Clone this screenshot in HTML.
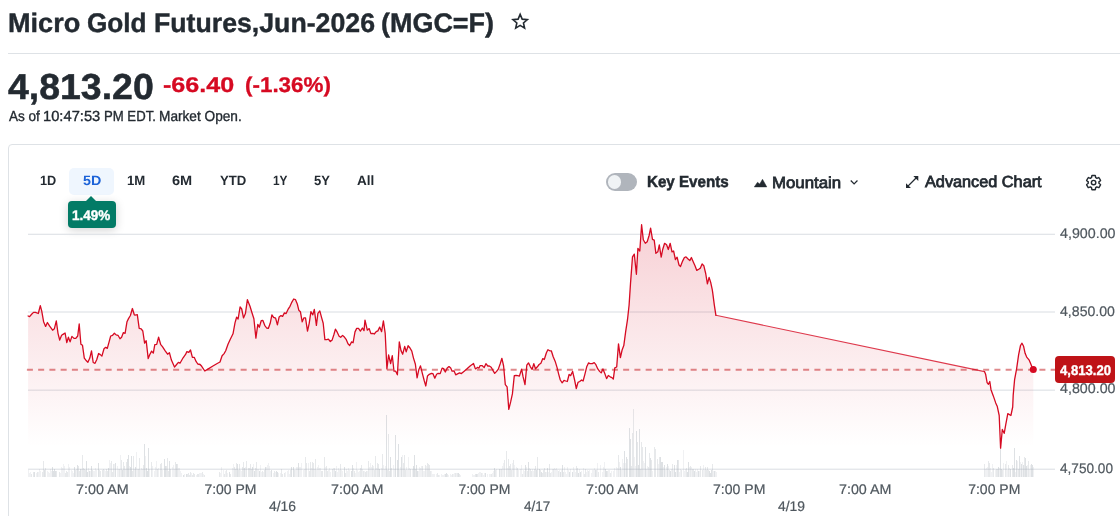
<!DOCTYPE html>
<html lang="en">
<head>
<meta charset="utf-8">
<title>Micro Gold Futures,Jun-2026 (MGC=F)</title>
<style>
*{box-sizing:border-box;margin:0;padding:0}
html,body{width:1120px;height:516px;overflow:hidden;background:#fff}
body{position:relative;font-family:"Liberation Sans",sans-serif;color:#232a31}
.t{position:absolute;white-space:nowrap;transform-origin:0 0;display:block;text-rendering:geometricPrecision}
h1{font-size:28px;font-weight:700}
.rule{position:absolute;left:8px;right:0;top:53px;height:1px;background:#dee2e6}
.card{position:absolute;left:8px;top:144px;width:1200px;height:500px;border:1px solid #dee2e6;border-radius:4px}
.tabbg{position:absolute;left:69px;top:168px;width:45px;height:27px;border-radius:5px;background:#eff6fe}
.tip{position:absolute;left:68px;top:201px;width:48px;height:27px;border-radius:4px;background:#037b66;box-shadow:0 2px 10px rgba(0,0,0,.18)}
.tip:before{content:"";position:absolute;left:18px;top:-5px;border-left:5px solid transparent;border-right:5px solid transparent;border-bottom:5px solid #037b66}
.toggle{position:absolute;left:606px;top:173px;width:31px;height:17.5px;border-radius:9px;background:#b0b5bc}
.toggle i{position:absolute;left:1.6px;top:2px;width:13.5px;height:13.5px;border-radius:50%;background:#f0f3f5}
.chart{position:absolute;left:0;top:0}
.tag{position:absolute;left:1055px;top:356px;width:60px;height:27.2px;border-radius:4px;background:#bf1317}
svg.ic{position:absolute;overflow:visible}
</style>
</head>
<body>
<h1><span class="t" style="left:8.08px;top:-3.50px;font-size:26.8px;line-height:53.6px;font-weight:700;-webkit-text-stroke:0.4px currentColor;transform:scaleX(1.0108);">Micro</span> <span class="t" style="left:86.62px;top:-3.50px;font-size:26.8px;line-height:53.6px;font-weight:700;-webkit-text-stroke:0.4px currentColor;transform:scaleX(0.9761);">Gold</span> <span class="t" style="left:153.51px;top:-3.50px;font-size:26.8px;line-height:53.6px;font-weight:700;-webkit-text-stroke:0.4px currentColor;transform:scaleX(0.9959);">Futures,Jun-2026</span> <span class="t" style="left:381.24px;top:-3.50px;font-size:26.8px;line-height:53.6px;font-weight:700;-webkit-text-stroke:0.4px currentColor;transform:scaleX(1.0055);">(MGC=F)</span></h1>
<svg class="ic" style="left:0;top:0" width="1120" height="50" viewBox="0 0 1120 50"><path d="M520.15 14.38 L522.19 19.14 L527.35 19.61 L523.45 23.02 L524.60 28.07 L520.15 25.42 L515.70 28.07 L516.85 23.02 L512.95 19.61 L518.11 19.14Z" fill="none" stroke="#232a31" stroke-width="1.600" stroke-linejoin="miter" stroke-miterlimit="10"/></svg>
<div class="rule"></div>
<div class="t" style="left:8.14px;top:50.70px;font-size:36px;line-height:72px;font-weight:700;-webkit-text-stroke:0.5px currentColor;transform:scaleX(1.0400);">4,813.20</div>
<div class="t" style="left:163.42px;top:64.00px;font-size:21.3px;line-height:42.6px;font-weight:700;color:#d60a22;-webkit-text-stroke:0.3px currentColor;transform:scaleX(1.1797);">-66.40</div><div class="t" style="left:244.75px;top:64.00px;font-size:21.3px;line-height:42.6px;font-weight:700;color:#d60a22;-webkit-text-stroke:0.3px currentColor;transform:scaleX(1.0520);">(-1.36%)</div>
<div><span class="t" style="left:8.93px;top:103.00px;font-size:14.6px;line-height:29.2px;-webkit-text-stroke:0.35px currentColor;transform:scaleX(0.9274);">As of</span> <span class="t" style="left:43.09px;top:103.00px;font-size:14.6px;line-height:29.2px;-webkit-text-stroke:0.35px currentColor;transform:scaleX(1.0081);">10:47:53</span> <span class="t" style="left:103.60px;top:103.00px;font-size:14.6px;line-height:29.2px;-webkit-text-stroke:0.35px currentColor;transform:scaleX(0.9009);">PM EDT.</span> <span class="t" style="left:159.06px;top:103.00px;font-size:14.6px;line-height:29.2px;-webkit-text-stroke:0.35px currentColor;transform:scaleX(0.9357);">Market Open.</span></div>
<div class="card"></div>
<div class="tabbg"></div>
<div class="t" style="left:39.79px;top:167.30px;font-size:13.5px;line-height:27.0px;font-weight:700;transform:scaleX(0.9438);">1D</div><div class="t" style="left:82.57px;top:167.30px;font-size:13.5px;line-height:27.0px;font-weight:700;color:#1d63d8;transform:scaleX(1.0585);">5D</div><div class="t" style="left:127.27px;top:167.30px;font-size:13.5px;line-height:27.0px;font-weight:700;transform:scaleX(0.9765);">1M</div><div class="t" style="left:172.26px;top:167.30px;font-size:13.5px;line-height:27.0px;font-weight:700;transform:scaleX(1.0783);">6M</div><div class="t" style="left:219.76px;top:167.30px;font-size:13.5px;line-height:27.0px;font-weight:700;transform:scaleX(0.9752);">YTD</div><div class="t" style="left:272.54px;top:167.30px;font-size:13.5px;line-height:27.0px;font-weight:700;transform:scaleX(0.8774);">1Y</div><div class="t" style="left:313.92px;top:167.30px;font-size:13.5px;line-height:27.0px;font-weight:700;transform:scaleX(0.9651);">5Y</div><div class="t" style="left:357.40px;top:167.30px;font-size:13.5px;line-height:27.0px;font-weight:700;transform:scaleX(1.0032);">All</div>
<div class="tip"></div><div class="t" style="left:72.38px;top:201.10px;font-size:14px;line-height:28px;font-weight:700;color:#fff;-webkit-text-stroke:0.4px currentColor;transform:scaleX(0.9626);">1.49%</div>
<div class="toggle"><i></i></div>
<div class="t" style="left:646.54px;top:167.25px;font-size:16px;line-height:32px;font-weight:700;-webkit-text-stroke:0.5px currentColor;transform:scaleX(0.9471);">Key Events</div>
<svg class="ic" style="left:754px;top:179px" width="13" height="8" viewBox="0 0 13 8"><path d="M0.300 7.900L3.500 3.300 5.750 5.100 8.500 0.300 12.800 7.900z" fill="#232a31" stroke="#232a31" stroke-width="0.500" stroke-linejoin="round"/></svg>
<div class="t" style="left:772.05px;top:167.50px;font-size:16px;line-height:32px;-webkit-text-stroke:0.75px currentColor;transform:scaleX(1.0506);">Mountain</div>
<svg class="ic" style="left:850px;top:180px" width="9" height="5" viewBox="0 0 9 5"><path d="M0.750 0.500L4.100 3.850 7.450 0.500" fill="none" stroke="#232a31" stroke-width="1.250"/></svg>
<svg class="ic" style="left:906px;top:176px" width="12.300" height="12.100" viewBox="0 0 12.400 12.200"><path d="M1.500 10.700L10.900 1.300" fill="none" stroke="#232a31" stroke-width="1.350"/><path d="M12.400 0H7.400L12.400 5zM0 12.200V7.200L5 12.200z" fill="#232a31"/></svg>
<div class="t" style="left:925.11px;top:166.60px;font-size:16px;line-height:32px;-webkit-text-stroke:0.75px currentColor;transform:scaleX(1.0165);">Advanced Chart</div>
<svg class="ic" style="left:1085.400px;top:174.400px" width="17.200" height="17.200" viewBox="0 0 24 24"><path d="M19.430 12.980c.040-.320.070-.640.070-.980s-.030-.660-.070-.980l2.110-1.650c.190-.150.240-.420.120-.640l-2-3.460c-.120-.220-.390-.300-.610-.220l-2.490 1c-.520-.400-1.080-.730-1.690-.980l-.380-2.650C14.460 2.180 14.250 2 14 2h-4c-.250 0-.460.180-.490.420l-.380 2.650c-.610.250-1.170.590-1.690.980l-2.490-1c-.230-.090-.490 0-.610.220l-2 3.460c-.130.220-.070.490.120.640l2.110 1.650c-.040.320-.070.650-.070.980s.030.660.070.980l-2.110 1.650c-.190.150-.240.420-.120.640l2 3.460c.120.220.390.300.610.220l2.490-1c.520.400 1.080.730 1.690.980l.380 2.650c.030.240.240.420.490.420h4c.250 0 .460-.180.490-.420l.380-2.650c.610-.250 1.170-.590 1.690-.980l2.490 1c.230.090.490 0 .610-.220l2-3.460c.120-.220.070-.490-.120-.640l-2.110-1.650z" fill="none" stroke="#232a31" stroke-width="2" stroke-linejoin="round"/><circle cx="12" cy="12" r="3.100" fill="none" stroke="#232a31" stroke-width="2"/></svg>
<svg class="chart" width="1120" height="516" viewBox="0 0 1120 516">
<defs>
<linearGradient id="g" x1="0" y1="225" x2="0" y2="447" gradientUnits="userSpaceOnUse">
<stop offset="0" stop-color="#d60a22" stop-opacity="0.19"/>
<stop offset="1" stop-color="#d60a22" stop-opacity="0"/>
</linearGradient>
</defs>
<g stroke="#d9dde2" stroke-width="1">
<line x1="28" x2="1055" y1="234.25" y2="234.25"/><line x1="28" x2="1055" y1="312.0" y2="312.0"/><line x1="28" x2="1055" y1="390.15" y2="390.15"/><line x1="28" x2="1055" y1="469.2" y2="469.2"/>
</g>
<path d="M28.1 316 L29.6 316.6 L31.6 314.3 L33.5 312.4 L35.5 312.4 L38.3 313.5 L40.3 305.7 L41.7 310.9 L43.6 321.7 L45.6 326.4 L47.4 322.5 L49.5 325.9 L52.6 330.2 L54.4 328.7 L56.3 320.9 L58 333.3 L59.7 340 L61.6 335.3 L63.4 334.1 L65.1 333 L66.8 342.6 L68.4 337.2 L70.1 341.9 L71.9 336.4 L74 338.4 L75.8 338.4 L77.7 336 L79.2 324 L80.9 344.2 L82.5 345.3 L84.3 358.1 L85.9 360.2 L87.9 362.3 L89.8 358.1 L91.5 350.9 L93.2 362.5 L95 363.3 L96.7 359.7 L98.6 353.5 L100.3 354.6 L101.9 356.1 L104 348.8 L105.7 347.3 L107.3 348.4 L109.1 341.9 L110.7 336 L112.6 335.3 L114.4 333.3 L116.1 334.9 L118 335.3 L120 338.8 L121.6 337.2 L123.4 332.6 L125.1 333.3 L127 321.7 L128.5 318.6 L130.4 315.5 L132.4 308.5 L134.3 314.7 L135 315.2 L137.3 314.7 L139.2 328.3 L141.2 328.8 L142.8 331 L144.6 343.1 L146.2 340.7 L148.2 358.6 L149.7 354.7 L151.6 351.1 L153.3 353.1 L154.8 344.6 L156.7 344.3 L158.6 337.2 L160.6 344.3 L162.6 346.9 L165.2 350.8 L167.6 354.2 L169.4 352.7 L171.4 360.1 L174.5 367.1 L176.6 364.5 L178.4 362.4 L180 363.2 L183.1 357.8 L185.4 354.7 L186.9 351.6 L188.8 352.4 L190.5 350 L192.4 357.3 L194.2 357.3 L196.2 361.7 L197.8 364 L200.1 364.5 L201.7 366.3 L204.8 371 L207.9 369.1 L212.5 366.3 L217.2 363.5 L220 362 L222.1 355.8 L224.1 353.6 L225.7 350.8 L228 344.3 L230.3 339.2 L233 333.8 L235 322.9 L236.6 317.2 L238.1 319 L240.1 306.9 L241.7 309 L243.5 317.9 L245.4 313.6 L247.4 299.7 L249.3 304.6 L250 306.3 L251.9 312.5 L253.9 318.7 L255.9 338.1 L257.8 324.4 L259.3 327.2 L261.2 320.7 L262.9 320.5 L264.7 325.3 L266.6 328 L268.3 328.4 L270.2 323.3 L271.9 314.8 L273.6 317.4 L275.6 318.2 L277.4 324.9 L279.1 317.1 L281 315.6 L282.6 316.4 L284.4 312.9 L286.1 313.6 L288 309.4 L290 306.3 L291.9 302.1 L293.7 299 L295.4 299.6 L297.3 304 L298.8 310.2 L300.4 311.7 L302.2 321.8 L303.8 317.9 L305.5 317.9 L307.5 331.1 L309.2 323.3 L310.9 311.7 L312.8 314.8 L314.3 309.4 L316.4 325.3 L317.9 313.3 L319.8 310.9 L321.6 317.6 L323.2 323.3 L324.9 339.6 L326.7 339.6 L328.4 339.1 L330.3 341.5 L332.2 339.9 L334 334.2 L335.4 329.2 L337.1 331.9 L339.1 336.2 L340.7 337.3 L342.6 335.4 L344.6 337.3 L346.1 339.3 L348 343.8 L349.7 345.5 L351.6 341.9 L353.1 342.7 L355 331.9 L356.7 328.4 L358.5 328.4 L360.4 331.1 L362.4 328 L364 330.6 L365 320.1 L367.3 330.2 L369.2 328.6 L370.9 333.6 L372.8 333.3 L374.3 334 L376.2 331.7 L377.9 330.9 L379.7 327.1 L381.6 331.7 L383.4 320.9 L385.2 333.3 L386.9 368.9 L388.6 355 L390.6 363.5 L392.3 355.7 L394 371.2 L395.7 371.2 L397.4 374.8 L399.3 341.8 L401 350.6 L402.7 354.2 L404.7 346.4 L406.2 351.9 L408.1 345.7 L410 348 L411.8 351.1 L413.5 358.1 L415.4 364.3 L417.1 377.9 L418.8 369.7 L420.5 365.8 L422.4 373.6 L424.2 380.5 L425.8 386 L427.5 375.9 L429.3 374.3 L431.4 373.3 L432.9 373.6 L434.8 378.2 L436.6 374.3 L438.2 373.3 L440.2 373.6 L442.1 368.1 L443.6 368.6 L445.3 372 L447.2 368.1 L449 366.6 L450.7 368.1 L452.1 371.2 L454.1 370.9 L455.7 374.8 L458 373.6 L459.6 372.8 L461.4 373.6 L464.2 371.2 L467.3 368.6 L470.4 365.8 L473.5 363.5 L475.4 368.9 L477.4 367.4 L479 368.1 L480 365.7 L482.3 365.7 L484.2 367.6 L485.9 363.7 L487.8 366 L489.3 366 L491.2 367.2 L492.9 370.3 L494.7 373.4 L496.6 371.4 L498.3 369.1 L500.2 363.7 L501.9 358.3 L503.6 366 L505.3 384.6 L507.1 386.9 L508.8 409.4 L510.7 401.7 L512.4 393.9 L514.3 375.6 L516 375.3 L517.7 375.6 L519.4 376.1 L521.6 369.1 L523.1 376.9 L525 384.6 L526.8 365.2 L528.5 362.9 L530.4 366.8 L532.1 369.4 L533.8 363.7 L535.5 368.8 L537.4 366.8 L539.1 364.5 L540.9 363.2 L542.8 358.6 L544.3 359.5 L546.4 352.8 L547.9 349.7 L549.8 350.8 L551.3 350.8 L553.2 356.7 L555.2 361.4 L557.1 367.6 L558.6 373.8 L560.3 380 L562.2 382.8 L564 380.3 L565.7 381 L567.3 381.5 L569.1 374.5 L570.7 375.6 L572.6 371.4 L574.6 380 L576.3 388.5 L578 382.3 L579.7 381.5 L581.6 380 L583.1 381 L585 373.8 L586.7 366.8 L588.5 362.9 L590 363.6 L592.3 363.6 L594.2 362.7 L595.9 364.7 L597.8 368.9 L599.6 371.4 L601.2 372.9 L602.9 368.9 L604.7 373.2 L606.6 378.6 L608.3 375.5 L610.2 376.8 L611.9 377.6 L613.3 379.1 L614.8 367.8 L616.7 367 L618.5 343.8 L620.4 357.7 L622.1 350 L623.8 345.6 L625.7 331.4 L627.5 319.7 L629.1 305 L630.5 283.6 L632.5 256.9 L634.3 254.1 L636.4 274.3 L637.9 248.4 L639.8 251 L641.6 224.7 L643.3 239.8 L645.3 243.3 L647.2 241.7 L649.1 235.5 L650.6 228.1 L652.5 239.4 L654.2 240.2 L655.9 253.3 L657.8 251.8 L659.3 244.8 L661.2 257.2 L662.7 249.5 L664.6 243.3 L666.6 244.8 L668.3 249.5 L670.2 243.3 L672 251.8 L673.6 251 L675.4 259.5 L677.1 257.2 L679 265 L680.5 266.5 L682.6 261.1 L684.4 257.5 L686 256.9 L687.8 258.8 L689.8 260.6 L691.4 257.5 L693.3 261.9 L695 265.7 L696.8 270.4 L698.7 269.3 L700.4 268.1 L702.1 263.9 L703.8 265.7 L705.7 273.5 L707.4 283.9 L709.1 277.4 L710.8 282.8 L712.3 289.8 L712.8 293.3 L714.3 304.9 L715.9 315.3 L984.5 371.6 L985.6 374.2 L987.1 382.7 L988.4 384.3 L989.8 381.5 L991 389.7 L993.3 395.9 L995.7 402.9 L997.2 406.2 L999.2 415.5 L1000.6 448.1 L1002.3 429.5 L1004.2 433.3 L1005.7 424.8 L1007.8 413.6 L1010.9 415.5 L1012.7 407 L1013.2 395.1 L1014.6 379.6 L1016.6 368.8 L1018.6 354.8 L1020.5 345.5 L1022 343.2 L1023.6 346.3 L1025.1 353.3 L1026.7 357.1 L1029 359.8 L1030.5 363.3 L1032.1 367.2 L1033.3 369.4 L1033.3 476.5 L28.1 476.5 Z" fill="url(#g)"/>
<g shape-rendering="crispEdges"><path d="M28 476.5v-6.4h1v6.4zM29 476.5v-4h1v4zM30 476.5v-4.1h1v4.1zM36 476.5v-3.8h1v3.8zM38 476.5v-4.8h1v4.8zM39 476.5v-8h1v8zM40 476.5v-5.6h1v5.6zM47 476.5v-5.2h1v5.2zM48 476.5v-4.5h1v4.5zM49 476.5v-3.5h1v3.5zM50 476.5v-7.7h1v7.7zM51 476.5v-5.5h1v5.5zM60 476.5v-3.5h1v3.5zM61 476.5v-9.8h1v9.8zM62 476.5v-9h1v9zM63 476.5v-12.5h1v12.5zM64 476.5v-10.1h1v10.1zM68 476.5v-12.1h1v12.1zM69 476.5v-9.6h1v9.6zM71 476.5v-6.8h1v6.8zM72 476.5v-5.8h1v5.8zM73 476.5v-3.3h1v3.3zM76 476.5v-7.8h1v7.8zM81 476.5v-7.9h1v7.9zM88 476.5v-8.3h1v8.3zM90 476.5v-5.7h1v5.7zM93 476.5v-6h1v6zM94 476.5v-5.9h1v5.9zM95 476.5v-8.1h1v8.1zM96 476.5v-6.8h1v6.8zM104 476.5v-6.6h1v6.6zM105 476.5v-5.7h1v5.7zM109 476.5v-16.2h1v16.2zM110 476.5v-13.4h1v13.4zM114 476.5v-12.3h1v12.3zM117 476.5v-10.8h1v10.8zM118 476.5v-7.1h1v7.1zM120 476.5v-22h1v22zM125 476.5v-7.9h1v7.9zM129 476.5v-10.1h1v10.1zM134 476.5v-7.7h1v7.7zM136 476.5v-24.5h1v24.5zM137 476.5v-7.5h1v7.5zM140 476.5v-6.5h1v6.5zM141 476.5v-8.4h1v8.4zM142 476.5v-7.3h1v7.3zM145 476.5v-20.4h1v20.4zM149 476.5v-7.9h1v7.9zM152 476.5v-10.9h1v10.9zM154 476.5v-5.1h1v5.1zM155 476.5v-10h1v10zM156 476.5v-15.7h1v15.7zM158 476.5v-8.6h1v8.6zM162 476.5v-6.3h1v6.3zM172 476.5v-9.3h1v9.3zM173 476.5v-11.9h1v11.9zM174 476.5v-7.1h1v7.1zM178 476.5v-8.9h1v8.9zM179 476.5v-8.7h1v8.7zM180 476.5v-5.2h1v5.2zM181 476.5v-3.8h1v3.8zM184 476.5v-3h1v3zM191 476.5v-3.8h1v3.8zM196 476.5v-2h1v2zM199 476.5v-3.6h1v3.6zM200 476.5v-3.4h1v3.4zM201 476.5v-3.9h1v3.9zM203 476.5v-2.4h1v2.4zM220 476.5v-3.9h1v3.9zM221 476.5v-9.9h1v9.9zM223 476.5v-6.6h1v6.6zM225 476.5v-5.4h1v5.4zM227 476.5v-3.7h1v3.7zM232 476.5v-8.9h1v8.9zM233 476.5v-12.4h1v12.4zM240 476.5v-7h1v7zM241 476.5v-5.3h1v5.3zM245 476.5v-9.1h1v9.1zM253 476.5v-12.6h1v12.6zM257 476.5v-7.3h1v7.3zM258 476.5v-7.5h1v7.5zM260 476.5v-11.9h1v11.9zM261 476.5v-4.9h1v4.9zM263 476.5v-4.6h1v4.6zM266 476.5v-9.4h1v9.4zM267 476.5v-11.7h1v11.7zM268 476.5v-13.6h1v13.6zM269 476.5v-10.7h1v10.7zM270 476.5v-5.6h1v5.6zM273 476.5v-3.8h1v3.8zM275 476.5v-4.8h1v4.8zM278 476.5v-3.4h1v3.4zM280 476.5v-3.6h1v3.6zM285 476.5v-4.7h1v4.7zM287 476.5v-5.1h1v5.1zM288 476.5v-6.2h1v6.2zM289 476.5v-2.7h1v2.7zM295 476.5v-6.7h1v6.7zM296 476.5v-9.2h1v9.2zM297 476.5v-9.8h1v9.8zM299 476.5v-9.9h1v9.9zM300 476.5v-9.3h1v9.3zM301 476.5v-13.1h1v13.1zM303 476.5v-6.3h1v6.3zM304 476.5v-7.3h1v7.3zM308 476.5v-13.3h1v13.3zM311 476.5v-8.2h1v8.2zM314 476.5v-8h1v8zM316 476.5v-6.6h1v6.6zM317 476.5v-9.3h1v9.3zM318 476.5v-12h1v12zM319 476.5v-8.5h1v8.5zM320 476.5v-8.6h1v8.6zM325 476.5v-9.2h1v9.2zM328 476.5v-6.8h1v6.8zM329 476.5v-8.1h1v8.1zM330 476.5v-4.9h1v4.9zM333 476.5v-8.3h1v8.3zM336 476.5v-10.9h1v10.9zM337 476.5v-4.2h1v4.2zM338 476.5v-8.2h1v8.2zM339 476.5v-6.9h1v6.9zM341 476.5v-6.6h1v6.6zM342 476.5v-6h1v6zM346 476.5v-7.9h1v7.9zM347 476.5v-5.2h1v5.2zM348 476.5v-8.9h1v8.9zM349 476.5v-6.9h1v6.9zM353 476.5v-8.7h1v8.7zM355 476.5v-4h1v4zM356 476.5v-14.1h1v14.1zM357 476.5v-6.3h1v6.3zM358 476.5v-4.4h1v4.4zM359 476.5v-5.1h1v5.1zM362 476.5v-7.5h1v7.5zM364 476.5v-5.5h1v5.5zM367 476.5v-5.9h1v5.9zM369 476.5v-9.9h1v9.9zM370 476.5v-13.9h1v13.9zM371 476.5v-9.2h1v9.2zM373 476.5v-11h1v11zM376 476.5v-8.9h1v8.9zM381 476.5v-8.4h1v8.4zM383 476.5v-11.3h1v11.3zM384 476.5v-8h1v8zM385 476.5v-10.5h1v10.5zM393 476.5v-11.8h1v11.8zM394 476.5v-7.3h1v7.3zM399 476.5v-6.4h1v6.4zM400 476.5v-9.6h1v9.6zM402 476.5v-21.3h1v21.3zM406 476.5v-9.3h1v9.3zM407 476.5v-6.5h1v6.5zM408 476.5v-19.7h1v19.7zM409 476.5v-8.3h1v8.3zM412 476.5v-7.1h1v7.1zM418 476.5v-5.8h1v5.8zM419 476.5v-9.5h1v9.5zM420 476.5v-8.1h1v8.1zM421 476.5v-10.6h1v10.6zM423 476.5v-5.7h1v5.7zM424 476.5v-5.4h1v5.4zM426 476.5v-10.8h1v10.8zM431 476.5v-5.9h1v5.9zM432 476.5v-2.6h1v2.6zM433 476.5v-2.3h1v2.3zM434 476.5v-3h1v3zM436 476.5v-2.5h1v2.5zM439 476.5v-1.7h1v1.7zM441 476.5v-2.9h1v2.9zM442 476.5v-1.5h1v1.5zM443 476.5v-1.7h1v1.7zM444 476.5v-2.5h1v2.5zM448 476.5v-1.5h1v1.5zM450 476.5v-2.6h1v2.6zM451 476.5v-2h1v2zM453 476.5v-2.6h1v2.6zM454 476.5v-3.1h1v3.1zM456 476.5v-3.6h1v3.6zM460 476.5v-1.6h1v1.6zM472 476.5v-2.4h1v2.4zM473 476.5v-2h1v2zM474 476.5v-2h1v2zM478 476.5v-3.6h1v3.6zM479 476.5v-4.7h1v4.7zM480 476.5v-4.2h1v4.2zM482 476.5v-3.4h1v3.4zM483 476.5v-1.5h1v1.5zM484 476.5v-3.4h1v3.4zM487 476.5v-2.1h1v2.1zM489 476.5v-3h1v3zM490 476.5v-2.4h1v2.4zM492 476.5v-3.7h1v3.7zM493 476.5v-6h1v6zM496 476.5v-7.2h1v7.2zM500 476.5v-7.9h1v7.9zM502 476.5v-10.3h1v10.3zM503 476.5v-13.6h1v13.6zM507 476.5v-8.1h1v8.1zM512 476.5v-13.2h1v13.2zM514 476.5v-11.5h1v11.5zM516 476.5v-9.6h1v9.6zM518 476.5v-6.8h1v6.8zM520 476.5v-7.3h1v7.3zM521 476.5v-11.2h1v11.2zM523 476.5v-6.6h1v6.6zM524 476.5v-5.2h1v5.2zM526 476.5v-9.1h1v9.1zM529 476.5v-8.4h1v8.4zM532 476.5v-7.5h1v7.5zM533 476.5v-6h1v6zM546 476.5v-4.2h1v4.2zM548 476.5v-4.2h1v4.2zM551 476.5v-4.2h1v4.2zM552 476.5v-7.2h1v7.2zM554 476.5v-8.1h1v8.1zM555 476.5v-7.2h1v7.2zM556 476.5v-8.1h1v8.1zM557 476.5v-6.1h1v6.1zM559 476.5v-6.2h1v6.2zM561 476.5v-6.9h1v6.9zM564 476.5v-9.4h1v9.4zM565 476.5v-4.1h1v4.1zM566 476.5v-3h1v3zM567 476.5v-9.3h1v9.3zM568 476.5v-6.1h1v6.1zM570 476.5v-7.3h1v7.3zM573 476.5v-9.7h1v9.7zM574 476.5v-6.3h1v6.3zM575 476.5v-4.6h1v4.6zM579 476.5v-7.3h1v7.3zM581 476.5v-5.1h1v5.1zM583 476.5v-8.2h1v8.2zM586 476.5v-4.2h1v4.2zM587 476.5v-6.6h1v6.6zM589 476.5v-6.8h1v6.8zM591 476.5v-3.7h1v3.7zM592 476.5v-6.2h1v6.2zM593 476.5v-6.1h1v6.1zM594 476.5v-8.3h1v8.3zM597 476.5v-13.4h1v13.4zM600 476.5v-11.4h1v11.4zM602 476.5v-4.6h1v4.6zM603 476.5v-9.5h1v9.5zM604 476.5v-14.7h1v14.7zM608 476.5v-6.4h1v6.4zM609 476.5v-6.3h1v6.3zM611 476.5v-6h1v6zM613 476.5v-5.2h1v5.2zM614 476.5v-8.7h1v8.7zM616 476.5v-9.8h1v9.8zM617 476.5v-8.8h1v8.8zM619 476.5v-14.1h1v14.1zM621 476.5v-6.1h1v6.1zM622 476.5v-17.2h1v17.2zM623 476.5v-13.5h1v13.5zM625 476.5v-13.1h1v13.1zM634 476.5v-19.1h1v19.1zM635 476.5v-10.7h1v10.7zM643 476.5v-15.9h1v15.9zM644 476.5v-13.2h1v13.2zM646 476.5v-7.1h1v7.1zM647 476.5v-10.3h1v10.3zM652 476.5v-5.6h1v5.6zM658 476.5v-12.9h1v12.9zM663 476.5v-9.7h1v9.7zM665 476.5v-6.3h1v6.3zM666 476.5v-9.8h1v9.8zM668 476.5v-10.1h1v10.1zM671 476.5v-7.2h1v7.2zM673 476.5v-6.7h1v6.7zM676 476.5v-11.5h1v11.5zM679 476.5v-5h1v5zM680 476.5v-7.5h1v7.5zM683 476.5v-26.4h1v26.4zM684 476.5v-5.5h1v5.5zM685 476.5v-7.4h1v7.4zM689 476.5v-9.1h1v9.1zM691 476.5v-9.3h1v9.3zM695 476.5v-7.1h1v7.1zM696 476.5v-4.8h1v4.8zM697 476.5v-7.6h1v7.6zM699 476.5v-5.2h1v5.2zM703 476.5v-12h1v12zM704 476.5v-6.9h1v6.9zM713 476.5v-5.5h1v5.5zM715 476.5v-5.1h1v5.1zM716 476.5v-4.6h1v4.6zM985 476.5v-7.5h1v7.5zM986 476.5v-9h1v9zM987 476.5v-9.5h1v9.5zM990 476.5v-8.5h1v8.5zM991 476.5v-4.3h1v4.3zM992 476.5v-12.9h1v12.9zM995 476.5v-6.2h1v6.2zM999 476.5v-8.7h1v8.7zM1003 476.5v-13.1h1v13.1zM1006 476.5v-15.2h1v15.2zM1007 476.5v-6.5h1v6.5zM1009 476.5v-8.7h1v8.7zM1015 476.5v-4.1h1v4.1zM1017 476.5v-15.6h1v15.6zM1020 476.5v-14.1h1v14.1zM1022 476.5v-14.6h1v14.6zM1027 476.5v-11.3h1v11.3zM1029 476.5v-7.7h1v7.7zM1030 476.5v-11.9h1v11.9zM1033 476.5v-9.2h1v9.2z" fill="#9ca3ad" fill-opacity="0.15"/><path d="M31 476.5v-2.8h1v2.8zM33 476.5v-4.5h1v4.5zM37 476.5v-4.1h1v4.1zM42 476.5v-4.7h1v4.7zM43 476.5v-16h1v16zM45 476.5v-8.8h1v8.8zM56 476.5v-6h1v6zM59 476.5v-4.8h1v4.8zM65 476.5v-3.1h1v3.1zM66 476.5v-6h1v6zM67 476.5v-5h1v5zM75 476.5v-6.7h1v6.7zM78 476.5v-10.3h1v10.3zM79 476.5v-5.5h1v5.5zM82 476.5v-21.7h1v21.7zM83 476.5v-8.8h1v8.8zM84 476.5v-7.6h1v7.6zM85 476.5v-6.9h1v6.9zM92 476.5v-6.2h1v6.2zM99 476.5v-6.8h1v6.8zM100 476.5v-5.8h1v5.8zM102 476.5v-6.4h1v6.4zM103 476.5v-8h1v8zM106 476.5v-7.2h1v7.2zM107 476.5v-5.1h1v5.1zM111 476.5v-15.6h1v15.6zM112 476.5v-5h1v5zM113 476.5v-12.8h1v12.8zM119 476.5v-7.4h1v7.4zM121 476.5v-16.1h1v16.1zM123 476.5v-15h1v15zM124 476.5v-10.4h1v10.4zM126 476.5v-15h1v15zM132 476.5v-5.4h1v5.4zM133 476.5v-21h1v21zM138 476.5v-8h1v8zM139 476.5v-19h1v19zM143 476.5v-11.3h1v11.3zM151 476.5v-15h1v15zM157 476.5v-7.8h1v7.8zM160 476.5v-12.2h1v12.2zM161 476.5v-14h1v14zM166 476.5v-11h1v11zM167 476.5v-18.4h1v18.4zM168 476.5v-5.5h1v5.5zM170 476.5v-7.7h1v7.7zM175 476.5v-15h1v15zM177 476.5v-12.4h1v12.4zM187 476.5v-2.7h1v2.7zM188 476.5v-3.2h1v3.2zM189 476.5v-1.6h1v1.6zM190 476.5v-4.6h1v4.6zM192 476.5v-1.5h1v1.5zM193 476.5v-3.2h1v3.2zM194 476.5v-2.9h1v2.9zM197 476.5v-2.9h1v2.9zM198 476.5v-2.4h1v2.4zM202 476.5v-4.1h1v4.1zM204 476.5v-1.8h1v1.8zM219 476.5v-4.3h1v4.3zM224 476.5v-3h1v3zM226 476.5v-6.2h1v6.2zM230 476.5v-2.3h1v2.3zM234 476.5v-10h1v10zM235 476.5v-7.3h1v7.3zM236 476.5v-13.3h1v13.3zM238 476.5v-6.7h1v6.7zM239 476.5v-12.5h1v12.5zM242 476.5v-9.3h1v9.3zM243 476.5v-15h1v15zM246 476.5v-16h1v16zM248 476.5v-8.8h1v8.8zM249 476.5v-9h1v9zM250 476.5v-12.5h1v12.5zM251 476.5v-7.3h1v7.3zM255 476.5v-8.4h1v8.4zM256 476.5v-15h1v15zM262 476.5v-6h1v6zM264 476.5v-6.5h1v6.5zM274 476.5v-5.9h1v5.9zM281 476.5v-7.5h1v7.5zM282 476.5v-3h1v3zM284 476.5v-3.7h1v3.7zM290 476.5v-6.2h1v6.2zM294 476.5v-6.5h1v6.5zM305 476.5v-19.6h1v19.6zM306 476.5v-14h1v14zM309 476.5v-5.2h1v5.2zM310 476.5v-15h1v15zM312 476.5v-15h1v15zM313 476.5v-13.7h1v13.7zM315 476.5v-17.6h1v17.6zM321 476.5v-5.6h1v5.6zM322 476.5v-5.3h1v5.3zM324 476.5v-19.3h1v19.3zM326 476.5v-10.1h1v10.1zM327 476.5v-5.7h1v5.7zM332 476.5v-7.3h1v7.3zM334 476.5v-8.7h1v8.7zM340 476.5v-12.5h1v12.5zM345 476.5v-3.4h1v3.4zM354 476.5v-5.5h1v5.5zM360 476.5v-8.6h1v8.6zM361 476.5v-11.4h1v11.4zM363 476.5v-6h1v6zM365 476.5v-4.6h1v4.6zM366 476.5v-5.3h1v5.3zM368 476.5v-15.1h1v15.1zM372 476.5v-12h1v12zM374 476.5v-6.8h1v6.8zM375 476.5v-20.5h1v20.5zM377 476.5v-14h1v14zM378 476.5v-12.2h1v12.2zM382 476.5v-23h1v23zM387 476.5v-6.9h1v6.9zM388 476.5v-43h1v43zM389 476.5v-5.8h1v5.8zM391 476.5v-8.1h1v8.1zM403 476.5v-13.9h1v13.9zM404 476.5v-21.5h1v21.5zM405 476.5v-6.9h1v6.9zM410 476.5v-8h1v8zM415 476.5v-7.6h1v7.6zM422 476.5v-10.1h1v10.1zM425 476.5v-12h1v12zM427 476.5v-13.5h1v13.5zM428 476.5v-12.4h1v12.4zM429 476.5v-12h1v12zM430 476.5v-5.9h1v5.9zM437 476.5v-3.4h1v3.4zM438 476.5v-1.6h1v1.6zM447 476.5v-2.4h1v2.4zM452 476.5v-2.7h1v2.7zM455 476.5v-4h1v4zM457 476.5v-3.8h1v3.8zM459 476.5v-2.6h1v2.6zM475 476.5v-3h1v3zM477 476.5v-2.4h1v2.4zM481 476.5v-3.7h1v3.7zM491 476.5v-2.4h1v2.4zM495 476.5v-6.7h1v6.7zM501 476.5v-7.5h1v7.5zM504 476.5v-17h1v17zM506 476.5v-26h1v26zM508 476.5v-18h1v18zM509 476.5v-10.1h1v10.1zM510 476.5v-12.6h1v12.6zM511 476.5v-6.1h1v6.1zM513 476.5v-17h1v17zM517 476.5v-8.7h1v8.7zM522 476.5v-2.6h1v2.6zM527 476.5v-5.1h1v5.1zM530 476.5v-8h1v8zM531 476.5v-6h1v6zM534 476.5v-8h1v8zM535 476.5v-10.6h1v10.6zM537 476.5v-19.6h1v19.6zM540 476.5v-6.1h1v6.1zM542 476.5v-3.7h1v3.7zM543 476.5v-6.5h1v6.5zM544 476.5v-8.9h1v8.9zM545 476.5v-4.7h1v4.7zM549 476.5v-12.2h1v12.2zM550 476.5v-3.8h1v3.8zM553 476.5v-7.5h1v7.5zM558 476.5v-5.1h1v5.1zM563 476.5v-4.3h1v4.3zM576 476.5v-10.6h1v10.6zM577 476.5v-8.8h1v8.8zM584 476.5v-3h1v3zM585 476.5v-7.8h1v7.8zM588 476.5v-5.1h1v5.1zM596 476.5v-6.2h1v6.2zM598 476.5v-4.2h1v4.2zM607 476.5v-5.2h1v5.2zM610 476.5v-3.7h1v3.7zM618 476.5v-21.5h1v21.5zM627 476.5v-17.2h1v17.2zM631 476.5v-10.5h1v10.5zM632 476.5v-44h1v44zM633 476.5v-68h1v68zM637 476.5v-35h1v35zM640 476.5v-7.4h1v7.4zM641 476.5v-35h1v35zM642 476.5v-30h1v30zM648 476.5v-9.3h1v9.3zM649 476.5v-24h1v24zM651 476.5v-17h1v17zM654 476.5v-30h1v30zM655 476.5v-27.2h1v27.2zM657 476.5v-18h1v18zM659 476.5v-19.6h1v19.6zM669 476.5v-6.4h1v6.4zM672 476.5v-12.9h1v12.9zM678 476.5v-17h1v17zM681 476.5v-6.8h1v6.8zM686 476.5v-8.9h1v8.9zM690 476.5v-10.5h1v10.5zM692 476.5v-7.7h1v7.7zM693 476.5v-7.2h1v7.2zM700 476.5v-11h1v11zM702 476.5v-6.2h1v6.2zM705 476.5v-9.7h1v9.7zM706 476.5v-6.8h1v6.8zM707 476.5v-9.9h1v9.9zM708 476.5v-6.9h1v6.9zM712 476.5v-12.3h1v12.3zM984 476.5v-12.4h1v12.4zM988 476.5v-15.2h1v15.2zM989 476.5v-13.3h1v13.3zM993 476.5v-8.8h1v8.8zM996 476.5v-7.8h1v7.8zM997 476.5v-7.6h1v7.6zM1002 476.5v-6.1h1v6.1zM1005 476.5v-13h1v13zM1008 476.5v-12h1v12zM1012 476.5v-11.4h1v11.4zM1018 476.5v-7.7h1v7.7zM1024 476.5v-19.1h1v19.1zM1028 476.5v-15.5h1v15.5z" fill="#9ca3ad" fill-opacity="0.24"/><path d="M34 476.5v-4.3h1v4.3zM44 476.5v-6.6h1v6.6zM52 476.5v-9.1h1v9.1zM53 476.5v-5.3h1v5.3zM54 476.5v-7.7h1v7.7zM55 476.5v-5.5h1v5.5zM74 476.5v-9.5h1v9.5zM77 476.5v-11.3h1v11.3zM80 476.5v-7.9h1v7.9zM86 476.5v-16h1v16zM87 476.5v-4.8h1v4.8zM89 476.5v-5.1h1v5.1zM91 476.5v-10.1h1v10.1zM98 476.5v-14h1v14zM108 476.5v-8.2h1v8.2zM115 476.5v-13.2h1v13.2zM122 476.5v-6.9h1v6.9zM127 476.5v-17.2h1v17.2zM128 476.5v-22h1v22zM130 476.5v-9.7h1v9.7zM131 476.5v-21h1v21zM135 476.5v-9.3h1v9.3zM144 476.5v-32.6h1v32.6zM146 476.5v-8.1h1v8.1zM147 476.5v-5.4h1v5.4zM148 476.5v-28.6h1v28.6zM164 476.5v-17.5h1v17.5zM165 476.5v-10.8h1v10.8zM169 476.5v-15.7h1v15.7zM176 476.5v-12.6h1v12.6zM183 476.5v-2h1v2zM186 476.5v-2.7h1v2.7zM229 476.5v-4.3h1v4.3zM237 476.5v-12.4h1v12.4zM244 476.5v-8.2h1v8.2zM252 476.5v-9.8h1v9.8zM254 476.5v-5.9h1v5.9zM259 476.5v-5.5h1v5.5zM265 476.5v-10h1v10zM271 476.5v-6.2h1v6.2zM276 476.5v-5.6h1v5.6zM277 476.5v-4.1h1v4.1zM291 476.5v-10h1v10zM293 476.5v-10h1v10zM298 476.5v-14h1v14zM335 476.5v-5.9h1v5.9zM344 476.5v-9.5h1v9.5zM351 476.5v-5.2h1v5.2zM352 476.5v-11.2h1v11.2zM379 476.5v-7.2h1v7.2zM386 476.5v-61.6h1v61.6zM390 476.5v-20h1v20zM395 476.5v-42h1v42zM397 476.5v-16.3h1v16.3zM398 476.5v-33h1v33zM401 476.5v-20h1v20zM413 476.5v-10.7h1v10.7zM414 476.5v-21.5h1v21.5zM416 476.5v-12h1v12zM417 476.5v-5.7h1v5.7zM445 476.5v-2.1h1v2.1zM446 476.5v-4h1v4zM458 476.5v-3.3h1v3.3zM476 476.5v-2.2h1v2.2zM485 476.5v-3.5h1v3.5zM494 476.5v-9h1v9zM499 476.5v-7.1h1v7.1zM525 476.5v-12h1v12zM528 476.5v-14.2h1v14.2zM536 476.5v-6.5h1v6.5zM539 476.5v-7.7h1v7.7zM541 476.5v-5h1v5zM547 476.5v-8.2h1v8.2zM560 476.5v-4.8h1v4.8zM562 476.5v-12h1v12zM569 476.5v-5h1v5zM572 476.5v-4.4h1v4.4zM578 476.5v-4h1v4zM580 476.5v-4.9h1v4.9zM595 476.5v-6.7h1v6.7zM605 476.5v-7.1h1v7.1zM606 476.5v-5.9h1v5.9zM620 476.5v-10h1v10zM624 476.5v-26h1v26zM626 476.5v-20h1v20zM629 476.5v-48.5h1v48.5zM630 476.5v-38h1v38zM636 476.5v-46h1v46zM638 476.5v-11.9h1v11.9zM639 476.5v-48h1v48zM645 476.5v-30h1v30zM650 476.5v-18.9h1v18.9zM660 476.5v-20h1v20zM661 476.5v-14.4h1v14.4zM662 476.5v-14.4h1v14.4zM664 476.5v-12h1v12zM667 476.5v-12.9h1v12.9zM670 476.5v-5.1h1v5.1zM674 476.5v-11.5h1v11.5zM675 476.5v-4.3h1v4.3zM677 476.5v-16.2h1v16.2zM687 476.5v-4.5h1v4.5zM688 476.5v-14.2h1v14.2zM694 476.5v-6h1v6zM698 476.5v-5.9h1v5.9zM709 476.5v-5.7h1v5.7zM710 476.5v-3.5h1v3.5zM711 476.5v-6.1h1v6.1zM714 476.5v-5.5h1v5.5zM998 476.5v-9.8h1v9.8zM1000 476.5v-28.7h1v28.7zM1001 476.5v-7.7h1v7.7zM1010 476.5v-7.1h1v7.1zM1013 476.5v-9h1v9zM1014 476.5v-28.7h1v28.7zM1016 476.5v-17h1v17zM1019 476.5v-21h1v21zM1021 476.5v-12.4h1v12.4zM1023 476.5v-12h1v12zM1025 476.5v-18.7h1v18.7zM1026 476.5v-11h1v11zM1031 476.5v-12.7h1v12.7zM1032 476.5v-11.5h1v11.5z" fill="#9ca3ad" fill-opacity="0.33"/></g>
<line x1="26.900" x2="1056" y1="369.85" y2="369.85" stroke="#bf1317" stroke-opacity="0.5" stroke-width="2" stroke-dasharray="6 5.250"/>
<path d="M28.1 316 L29.6 316.6 L31.6 314.3 L33.5 312.4 L35.5 312.4 L38.3 313.5 L40.3 305.7 L41.7 310.9 L43.6 321.7 L45.6 326.4 L47.4 322.5 L49.5 325.9 L52.6 330.2 L54.4 328.7 L56.3 320.9 L58 333.3 L59.7 340 L61.6 335.3 L63.4 334.1 L65.1 333 L66.8 342.6 L68.4 337.2 L70.1 341.9 L71.9 336.4 L74 338.4 L75.8 338.4 L77.7 336 L79.2 324 L80.9 344.2 L82.5 345.3 L84.3 358.1 L85.9 360.2 L87.9 362.3 L89.8 358.1 L91.5 350.9 L93.2 362.5 L95 363.3 L96.7 359.7 L98.6 353.5 L100.3 354.6 L101.9 356.1 L104 348.8 L105.7 347.3 L107.3 348.4 L109.1 341.9 L110.7 336 L112.6 335.3 L114.4 333.3 L116.1 334.9 L118 335.3 L120 338.8 L121.6 337.2 L123.4 332.6 L125.1 333.3 L127 321.7 L128.5 318.6 L130.4 315.5 L132.4 308.5 L134.3 314.7 L135 315.2 L137.3 314.7 L139.2 328.3 L141.2 328.8 L142.8 331 L144.6 343.1 L146.2 340.7 L148.2 358.6 L149.7 354.7 L151.6 351.1 L153.3 353.1 L154.8 344.6 L156.7 344.3 L158.6 337.2 L160.6 344.3 L162.6 346.9 L165.2 350.8 L167.6 354.2 L169.4 352.7 L171.4 360.1 L174.5 367.1 L176.6 364.5 L178.4 362.4 L180 363.2 L183.1 357.8 L185.4 354.7 L186.9 351.6 L188.8 352.4 L190.5 350 L192.4 357.3 L194.2 357.3 L196.2 361.7 L197.8 364 L200.1 364.5 L201.7 366.3 L204.8 371 L207.9 369.1 L212.5 366.3 L217.2 363.5 L220 362 L222.1 355.8 L224.1 353.6 L225.7 350.8 L228 344.3 L230.3 339.2 L233 333.8 L235 322.9 L236.6 317.2 L238.1 319 L240.1 306.9 L241.7 309 L243.5 317.9 L245.4 313.6 L247.4 299.7 L249.3 304.6 L250 306.3 L251.9 312.5 L253.9 318.7 L255.9 338.1 L257.8 324.4 L259.3 327.2 L261.2 320.7 L262.9 320.5 L264.7 325.3 L266.6 328 L268.3 328.4 L270.2 323.3 L271.9 314.8 L273.6 317.4 L275.6 318.2 L277.4 324.9 L279.1 317.1 L281 315.6 L282.6 316.4 L284.4 312.9 L286.1 313.6 L288 309.4 L290 306.3 L291.9 302.1 L293.7 299 L295.4 299.6 L297.3 304 L298.8 310.2 L300.4 311.7 L302.2 321.8 L303.8 317.9 L305.5 317.9 L307.5 331.1 L309.2 323.3 L310.9 311.7 L312.8 314.8 L314.3 309.4 L316.4 325.3 L317.9 313.3 L319.8 310.9 L321.6 317.6 L323.2 323.3 L324.9 339.6 L326.7 339.6 L328.4 339.1 L330.3 341.5 L332.2 339.9 L334 334.2 L335.4 329.2 L337.1 331.9 L339.1 336.2 L340.7 337.3 L342.6 335.4 L344.6 337.3 L346.1 339.3 L348 343.8 L349.7 345.5 L351.6 341.9 L353.1 342.7 L355 331.9 L356.7 328.4 L358.5 328.4 L360.4 331.1 L362.4 328 L364 330.6 L365 320.1 L367.3 330.2 L369.2 328.6 L370.9 333.6 L372.8 333.3 L374.3 334 L376.2 331.7 L377.9 330.9 L379.7 327.1 L381.6 331.7 L383.4 320.9 L385.2 333.3 L386.9 368.9 L388.6 355 L390.6 363.5 L392.3 355.7 L394 371.2 L395.7 371.2 L397.4 374.8 L399.3 341.8 L401 350.6 L402.7 354.2 L404.7 346.4 L406.2 351.9 L408.1 345.7 L410 348 L411.8 351.1 L413.5 358.1 L415.4 364.3 L417.1 377.9 L418.8 369.7 L420.5 365.8 L422.4 373.6 L424.2 380.5 L425.8 386 L427.5 375.9 L429.3 374.3 L431.4 373.3 L432.9 373.6 L434.8 378.2 L436.6 374.3 L438.2 373.3 L440.2 373.6 L442.1 368.1 L443.6 368.6 L445.3 372 L447.2 368.1 L449 366.6 L450.7 368.1 L452.1 371.2 L454.1 370.9 L455.7 374.8 L458 373.6 L459.6 372.8 L461.4 373.6 L464.2 371.2 L467.3 368.6 L470.4 365.8 L473.5 363.5 L475.4 368.9 L477.4 367.4 L479 368.1 L480 365.7 L482.3 365.7 L484.2 367.6 L485.9 363.7 L487.8 366 L489.3 366 L491.2 367.2 L492.9 370.3 L494.7 373.4 L496.6 371.4 L498.3 369.1 L500.2 363.7 L501.9 358.3 L503.6 366 L505.3 384.6 L507.1 386.9 L508.8 409.4 L510.7 401.7 L512.4 393.9 L514.3 375.6 L516 375.3 L517.7 375.6 L519.4 376.1 L521.6 369.1 L523.1 376.9 L525 384.6 L526.8 365.2 L528.5 362.9 L530.4 366.8 L532.1 369.4 L533.8 363.7 L535.5 368.8 L537.4 366.8 L539.1 364.5 L540.9 363.2 L542.8 358.6 L544.3 359.5 L546.4 352.8 L547.9 349.7 L549.8 350.8 L551.3 350.8 L553.2 356.7 L555.2 361.4 L557.1 367.6 L558.6 373.8 L560.3 380 L562.2 382.8 L564 380.3 L565.7 381 L567.3 381.5 L569.1 374.5 L570.7 375.6 L572.6 371.4 L574.6 380 L576.3 388.5 L578 382.3 L579.7 381.5 L581.6 380 L583.1 381 L585 373.8 L586.7 366.8 L588.5 362.9 L590 363.6 L592.3 363.6 L594.2 362.7 L595.9 364.7 L597.8 368.9 L599.6 371.4 L601.2 372.9 L602.9 368.9 L604.7 373.2 L606.6 378.6 L608.3 375.5 L610.2 376.8 L611.9 377.6 L613.3 379.1 L614.8 367.8 L616.7 367 L618.5 343.8 L620.4 357.7 L622.1 350 L623.8 345.6 L625.7 331.4 L627.5 319.7 L629.1 305 L630.5 283.6 L632.5 256.9 L634.3 254.1 L636.4 274.3 L637.9 248.4 L639.8 251 L641.6 224.7 L643.3 239.8 L645.3 243.3 L647.2 241.7 L649.1 235.5 L650.6 228.1 L652.5 239.4 L654.2 240.2 L655.9 253.3 L657.8 251.8 L659.3 244.8 L661.2 257.2 L662.7 249.5 L664.6 243.3 L666.6 244.8 L668.3 249.5 L670.2 243.3 L672 251.8 L673.6 251 L675.4 259.5 L677.1 257.2 L679 265 L680.5 266.5 L682.6 261.1 L684.4 257.5 L686 256.9 L687.8 258.8 L689.8 260.6 L691.4 257.5 L693.3 261.9 L695 265.7 L696.8 270.4 L698.7 269.3 L700.4 268.1 L702.1 263.9 L703.8 265.7 L705.7 273.5 L707.4 283.9 L709.1 277.4 L710.8 282.8 L712.3 289.8 L712.8 293.3 L714.3 304.9 L715.9 315.3" fill="none" stroke="#d60a22" stroke-width="1.3" stroke-linejoin="round" stroke-linecap="round"/><path d="M715.9 315.3 L984.5 371.6" fill="none" stroke="#d60a22" stroke-opacity="0.8" stroke-width="1.150"/><path d="M984.5 371.6 L985.6 374.2 L987.1 382.7 L988.4 384.3 L989.8 381.5 L991 389.7 L993.3 395.9 L995.7 402.9 L997.2 406.2 L999.2 415.5 L1000.6 448.1 L1002.3 429.5 L1004.2 433.3 L1005.7 424.8 L1007.8 413.6 L1010.9 415.5 L1012.7 407 L1013.2 395.1 L1014.6 379.6 L1016.6 368.8 L1018.6 354.8 L1020.5 345.5 L1022 343.2 L1023.6 346.3 L1025.1 353.3 L1026.7 357.1 L1029 359.8 L1030.5 363.3 L1032.1 367.2 L1033.3 369.4" fill="none" stroke="#d60a22" stroke-width="1.3" stroke-linejoin="round" stroke-linecap="round"/>
<circle cx="1033.3" cy="369.5" r="3.5" fill="#d60a22"/>
</svg>
<div class="t" style="left:75.79px;top:474.80px;font-size:14px;line-height:28px;color:#4f575e;-webkit-text-stroke:0.2px currentColor;transform:scaleX(1.0251);">7:00 AM</div><div class="t" style="left:204.40px;top:474.80px;font-size:14px;line-height:28px;color:#4f575e;-webkit-text-stroke:0.2px currentColor;">7:00 PM</div><div class="t" style="left:331.09px;top:474.80px;font-size:14px;line-height:28px;color:#4f575e;-webkit-text-stroke:0.2px currentColor;transform:scaleX(1.0231);">7:00 AM</div><div class="t" style="left:458.40px;top:474.80px;font-size:14px;line-height:28px;color:#4f575e;-webkit-text-stroke:0.2px currentColor;">7:00 PM</div><div class="t" style="left:585.59px;top:474.80px;font-size:14px;line-height:28px;color:#4f575e;-webkit-text-stroke:0.2px currentColor;transform:scaleX(1.0251);">7:00 AM</div><div class="t" style="left:712.70px;top:474.80px;font-size:14px;line-height:28px;color:#4f575e;-webkit-text-stroke:0.2px currentColor;transform:scaleX(1.0040);">7:00 PM</div><div class="t" style="left:839.49px;top:474.80px;font-size:14px;line-height:28px;color:#4f575e;-webkit-text-stroke:0.2px currentColor;transform:scaleX(1.0211);">7:00 AM</div><div class="t" style="left:968.20px;top:474.80px;font-size:14px;line-height:28px;color:#4f575e;-webkit-text-stroke:0.2px currentColor;">7:00 PM</div>
<div class="t" style="left:268.55px;top:491.90px;font-size:14px;line-height:28px;color:#4f575e;-webkit-text-stroke:0.2px currentColor;transform:scaleX(0.9925);">4/16</div><div class="t" style="left:523.76px;top:491.90px;font-size:14px;line-height:28px;color:#4f575e;-webkit-text-stroke:0.2px currentColor;transform:scaleX(0.9660);">4/17</div><div class="t" style="left:778.05px;top:491.90px;font-size:14px;line-height:28px;color:#4f575e;-webkit-text-stroke:0.2px currentColor;transform:scaleX(0.9925);">4/19</div>
<div class="t" style="left:1059.75px;top:218.80px;font-size:14px;line-height:28px;color:#4f575e;-webkit-text-stroke:0.2px currentColor;transform:scaleX(1.0195);">4,900.00</div><div class="t" style="left:1059.75px;top:297.00px;font-size:14px;line-height:28px;color:#4f575e;-webkit-text-stroke:0.2px currentColor;transform:scaleX(1.0084);">4,850.00</div><div class="t" style="left:1059.75px;top:374.40px;font-size:14px;line-height:28px;color:#4f575e;-webkit-text-stroke:0.2px currentColor;transform:scaleX(1.0195);">4,800.00</div><div class="t" style="left:1059.76px;top:453.80px;font-size:14px;line-height:28px;color:#4f575e;-webkit-text-stroke:0.2px currentColor;transform:scaleX(0.9730);">4,750.00</div>
<div class="tag"></div><div class="t" style="left:1060.20px;top:355.60px;font-size:14px;line-height:28px;font-weight:700;color:#fff;-webkit-text-stroke:0.4px currentColor;transform:scaleX(0.9370);">4,813.20</div>
</body>
</html>
